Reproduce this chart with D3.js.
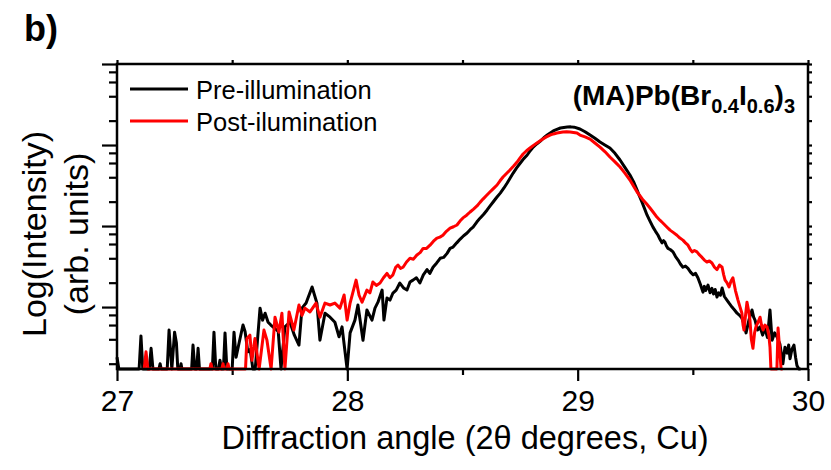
<!DOCTYPE html>
<html>
<head>
<meta charset="utf-8">
<script src="https://d3js.org/d3.v7.min.js"></script>
<style>
  body { margin: 0; background: #fff; }
  text { font-family: Arial, "Liberation Sans", sans-serif; fill: #000; }
</style>
</head>
<body>
<svg id="chart" width="831" height="470"></svg>
<script>
// tick values
var xTicks = [27, 28, 29, 30];
var xMinorTicks = [27.5, 28.5, 29.5];
var yDecades = [10, 100, 1000, 10000];
var yMinorTicks = [2, 4, 6, 8, 20, 40, 60, 80, 200, 400, 600, 800, 2000, 4000, 6000, 8000];

var seriesNames = ['Pre-illumination', 'Post-ilumination'];
var seriesColors = ['#000000', '#ff0000'];

// [2theta, intensity]; 0 = at/below the floor
var preIllumination = [
  [27.000,2.4],[27.008,0],
  [27.096,0],[27.104,4.4],[27.112,0],
  [27.140,0],[27.148,3.1],[27.156,0],
  [27.182,0],[27.187,2.0],[27.192,0],
  [27.218,0],[27.226,5.2],[27.238,0],[27.250,4.9],[27.258,3.6],[27.264,0],
  [27.274,0],[27.278,2.0],[27.282,0],
  [27.324,0],[27.330,3.4],[27.338,0],[27.346,0],[27.352,3.1],[27.358,0],
  [27.414,0],[27.421,4.9],[27.429,0],[27.440,0],[27.447,2.2],[27.454,0],[27.462,0],[27.469,4.8],[27.477,0],
  [27.500,0],[27.508,4.9],[27.517,2.4],[27.530,3.6],[27.547,6.0],[27.556,5.0],[27.568,2.8],[27.578,3.0],[27.590,0],[27.600,0],
  [27.621,9.7],[27.632,6.9],[27.643,8.4],[27.656,6.5],[27.668,6.0],[27.700,5.0],[27.712,0],[27.729,5.7],[27.751,6.5],
  [27.770,4.5],[27.790,3.4],[27.803,9.7],[27.821,11.2],[27.847,17.7],[27.868,11.2],[27.881,3.9],[27.903,8.4],[27.925,7.5],
  [27.946,6.5],[27.964,4.3],[27.977,5.7],[27.999,0],
  [28.012,4.8],[28.033,6.9],[28.046,10.6],[28.068,3.9],[28.085,9.2],[28.107,6.9],[28.120,9.7],[28.133,11.5],[28.151,16.2],
  [28.159,6.9],[28.172,12.9],[28.185,12.2],[28.198,14.9],[28.212,16.2],[28.228,19.8],[28.244,17.2],[28.259,16.2],[28.272,20.4],
  [28.285,21.5],[28.300,23],[28.315,19.8],[28.330,25],[28.346,29],[28.358,26],[28.372,31],[28.388,35],[28.403,40],[28.418,41],
  [28.433,46],[28.446,53],[28.459,55],[28.475,62],[28.490,69],[28.505,76],[28.520,82],[28.533,90],[28.546,97],[28.562,112],
  [28.577,126],[28.592,140],[28.607,158],[28.620,177],[28.633,198],[28.648,225],[28.664,255],[28.680,295],[28.694,340],
  [28.707,392],[28.720,451],[28.735,522],[28.751,600],[28.766,680],[28.781,753],[28.794,850],[28.807,944],[28.822,1030],
  [28.838,1119],[28.853,1230],[28.868,1328],[28.881,1410],[28.894,1490],[28.910,1560],[28.925,1622],[28.940,1650],
  [28.955,1668],[28.970,1675],[28.985,1660],
  [29.010,1578],[29.032,1460],[29.054,1328],[29.075,1210],[29.097,1088],[29.118,1000],[29.140,918],[29.162,790],[29.184,653],
  [29.205,530],[29.227,426],[29.243,350],[29.258,278],[29.268,235],[29.279,198],[29.290,165],[29.301,137],[29.314,115],
  [29.327,97],[29.338,86],[29.349,77],[29.358,68],[29.366,62],[29.373,66],[29.379,63],[29.385,57],[29.392,53],[29.403,51],
  [29.414,48],[29.425,42],[29.436,38],[29.446,34],[29.457,31],[29.468,32],[29.479,30],[29.490,27],[29.501,25],[29.512,26],
  [29.522,23],[29.533,19],[29.544,15.3],[29.550,18],[29.556,16],[29.566,18.7],[29.575,15],[29.583,17],[29.590,14.5],
  [29.597,16.5],[29.605,13.3],[29.612,15],[29.620,14],[29.627,17.2],[29.637,13.5],[29.648,12.2],[29.659,11],[29.670,10],
  [29.681,9.2],[29.692,8.4],[29.703,7.9],[29.713,7.3],[29.722,6.2],[29.731,4.8],[29.744,7.0],[29.757,9.2],[29.764,7.5],
  [29.770,6.9],[29.781,5.2],[29.792,5.7],[29.803,4.5],[29.813,5.5],[29.824,4.2],[29.835,9.2],[29.844,3.9],[29.855,4.8],
  [29.865,4.3],[29.878,3.5],[29.891,2.0],[29.900,3.2],[29.909,2.7],[29.916,3.4],[29.922,2.3],[29.930,3.0],[29.939,3.4],
  [29.946,2.4],[29.952,1.9],[29.960,0],[29.968,0]
];

var postIllumination = [
  [27.118,0],[27.126,2.8],[27.134,0],
  [27.403,0],[27.408,2.0],[27.413,0],
  [27.455,0],[27.460,2.0],[27.465,0],[27.477,0],[27.482,2.0],[27.487,0],
  [27.558,0],[27.564,4.1],[27.577,4.5],[27.586,2.2],[27.599,4.1],[27.617,0],[27.638,5.2],[27.651,3.9],[27.669,0],
  [27.686,7.5],[27.703,4.9],[27.716,8.4],[27.729,0],[27.747,8.7],[27.768,5.2],[27.790,10.6],[27.803,7.9],[27.816,9.7],
  [27.838,8.7],[27.864,11.2],[27.881,7.5],[27.903,11.2],[27.925,10.6],[27.946,11.2],[27.968,9.7],[27.986,14.1],[27.999,6.9],
  [28.012,11.2],[28.038,21.5],[28.051,14],[28.064,11.5],[28.085,16.2],[28.098,15],[28.111,20.4],[28.126,18.5],[28.142,19.8],
  [28.157,23],[28.172,26],[28.185,23],[28.198,25],[28.210,31],[28.220,33],[28.231,30],[28.242,31],[28.257,36],[28.272,40],
  [28.287,39],[28.302,44],[28.316,47],[28.329,53],[28.344,53],[28.359,58],[28.374,65],[28.389,71],[28.402,73],[28.415,77],
  [28.430,86],[28.446,94],[28.461,98],[28.476,103],[28.490,116],[28.502,126],[28.518,136],[28.533,149],[28.548,162],
  [28.563,177],[28.576,196],[28.589,215],[28.604,238],[28.619,263],[28.634,290],[28.650,321],[28.663,362],[28.676,403],
  [28.691,445],[28.706,491],[28.722,550],[28.737,617],[28.750,695],[28.763,774],[28.778,850],[28.793,918],[28.808,990],
  [28.823,1058],[28.836,1120],[28.849,1185],[28.864,1260],[28.880,1328],[28.895,1370],[28.910,1406],[28.923,1430],
  [28.936,1447],[28.952,1455],[28.967,1447],[28.982,1430],[28.997,1406],
  [29.010,1328],[29.032,1260],[29.054,1185],[29.075,1060],[29.097,944],[29.118,830],[29.140,711],[29.162,620],[29.184,535],
  [29.205,450],[29.227,370],[29.243,310],[29.258,263],[29.271,235],[29.284,209],[29.299,188],[29.314,167],[29.329,147],
  [29.344,129],[29.357,118],[29.370,109],[29.386,98],[29.401,89],[29.416,83],[29.431,77],[29.444,71],[29.457,67],[29.468,62],
  [29.479,58],[29.488,52],[29.497,48],[29.507,50],[29.518,48],[29.529,44],[29.540,41],[29.550,38],[29.561,36],[29.572,37],
  [29.583,35],[29.594,31],[29.605,29],[29.616,33],[29.627,31],[29.634,25],[29.640,21.5],[29.648,20],[29.657,17.7],[29.666,21],
  [29.674,23],[29.685,16],[29.696,12.2],[29.705,10],[29.713,8.4],[29.718,6],[29.722,5.2],[29.729,8],[29.735,11.5],[29.742,9],
  [29.748,6.9],[29.754,4],[29.761,3.1],[29.768,4.8],[29.774,5.7],[29.783,6.5],[29.792,7.5],[29.798,6],[29.805,5.2],[29.813,6],
  [29.822,5.7],[29.830,4.5],[29.835,3.2],[29.839,0],[29.865,0],[29.870,5.5],[29.877,3],[29.883,0],[29.890,0]
];

var svg = d3.select('#chart');
var plot = {left: 117, right: 808, top: 64, bottom: 369};

var x = d3.scaleLinear().domain([27, 30]).range([plot.left, plot.right]);
var y = d3.scaleLog().domain([1.72, 10000]).range([plot.bottom, plot.top]).clamp(true);
var yFloor = y.domain()[0];

function styleAxis(g){
  g.select('.domain').remove();
  g.selectAll('.tick line').attr('stroke', '#000').attr('stroke-width', 2.2);
}

// left axis: long decade ticks, short minor ones, no labels
svg.append('g').attr('transform', 'translate(' + plot.left + ',0)')
  .call(d3.axisLeft(y).tickValues(yDecades).tickSize(15).tickFormat(''))
  .call(styleAxis);
svg.append('g').attr('transform', 'translate(' + plot.left + ',0)')
  .call(d3.axisLeft(y).tickValues(yMinorTicks).tickSize(8).tickFormat(''))
  .call(styleAxis);
// right axis, tiny outward ticks
svg.append('g').attr('transform', 'translate(' + plot.right + ',0)')
  .call(d3.axisRight(y).tickValues(yDecades.concat(yMinorTicks)).tickSize(4).tickFormat(''))
  .call(styleAxis);

// bottom axis
var xAxis = svg.append('g').attr('transform', 'translate(0,' + plot.bottom + ')')
  .call(d3.axisBottom(x).tickValues(xTicks).tickSize(12).tickPadding(9).tickFormat(d3.format('d')))
  .call(styleAxis);
xAxis.selectAll('.tick text').attr('font-size', 30).attr('font-family', 'Arial, "Liberation Sans", sans-serif').attr('fill', '#000');
svg.append('g').attr('transform', 'translate(0,' + plot.bottom + ')')
  .call(d3.axisBottom(x).tickValues(xMinorTicks).tickSize(6).tickFormat(''))
  .call(styleAxis);
// top axis
svg.append('g').attr('transform', 'translate(0,' + plot.top + ')')
  .call(d3.axisTop(x).tickValues(xTicks.concat(xMinorTicks)).tickSize(4).tickFormat(''))
  .call(styleAxis);

// curves (post drawn on top)
var line = d3.line()
  .x(function(d){ return x(d[0]); })
  .y(function(d){ return y(Math.max(d[1], yFloor)); });

[preIllumination, postIllumination].forEach(function(series, i){
  svg.append('path')
    .datum(series)
    .attr('d', line)
    .attr('fill', 'none')
    .attr('stroke', seriesColors[i])
    .attr('stroke-width', 3)
    .attr('stroke-linejoin', 'round');
});

// frame
svg.append('rect')
  .attr('x', plot.left).attr('y', plot.top)
  .attr('width', plot.right - plot.left).attr('height', plot.bottom - plot.top)
  .attr('fill', 'none').attr('stroke', '#000').attr('stroke-width', 2.5);

// legend
var legend = svg.append('g');
seriesNames.forEach(function(name, i){
  var ly = 89 + i * 32;
  legend.append('line')
    .attr('x1', 130).attr('x2', 188).attr('y1', ly).attr('y2', ly)
    .attr('stroke', seriesColors[i]).attr('stroke-width', 3);
  legend.append('text')
    .attr('x', 196).attr('y', ly + 10)
    .attr('font-size', 25.5)
    .text(name);
});

// compound label
var title = svg.append('text')
  .attr('x', 795).attr('y', 105)
  .attr('text-anchor', 'end')
  .attr('font-size', 28).attr('font-weight', 'bold');
title.append('tspan').text('(MA)Pb(Br');
title.append('tspan').attr('font-size', 20).attr('dy', 8).text('0.4');
title.append('tspan').attr('dy', -8).text('I');
title.append('tspan').attr('font-size', 20).attr('dy', 8).text('0.6');
title.append('tspan').attr('dy', -8).text(')');
title.append('tspan').attr('font-size', 20).attr('dy', 8).text('3');

// axis titles
svg.append('text')
  .attr('x', 465).attr('y', 449)
  .attr('text-anchor', 'middle').attr('font-size', 32.5)
  .text('Diffraction angle (2\u03b8 degrees, Cu)');

svg.append('text')
  .attr('transform', 'translate(46,234) rotate(-90)')
  .attr('text-anchor', 'middle').attr('font-size', 34)
  .text('Log(Intensity)');
svg.append('text')
  .attr('transform', 'translate(88,234) rotate(-90)')
  .attr('text-anchor', 'middle').attr('font-size', 34)
  .text('(arb. units)');

// panel letter
svg.append('text')
  .attr('x', 24).attr('y', 41)
  .attr('font-size', 36).attr('font-weight', 'bold')
  .text('b)');
</script>
</body>
</html>
